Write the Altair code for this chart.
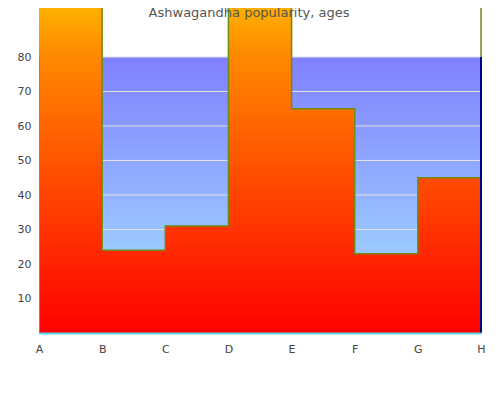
import altair as alt
import pandas as pd

categories = ["A", "B", "C", "D", "E", "F", "G", "H"]
values = [100, 24, 31, 100, 65, 23, 45, 100]
grid_values = [10, 20, 30, 40, 50, 60, 70, 80]

df = pd.DataFrame({"cat": categories, "val": values})
grid_df = pd.DataFrame({"g": grid_values})
bg_df = pd.DataFrame({"cat": ["A"], "x2": ["H"], "lo": [0], "hi": [80]})

W, H = 442, 276

xscale = alt.Scale(type="point", padding=0, domain=categories)
yscale = alt.Scale(domain=[0, 80], nice=False, zero=True)

xaxis = alt.Axis(title=None, labelAngle=0, ticks=False, domainColor="#5FD8F0",
                 domainWidth=2, labelColor="#444444", labelFontSize=11,
                 labelPadding=10, grid=False, zindex=1, labelOverlap=False)
yaxis = alt.Axis(title=None, values=grid_values, ticks=False, grid=False,
                 domainColor="#888888", labelColor="#444444", labelFontSize=11,
                 labelPadding=8, zindex=1, labelOverlap=False)

bg = alt.Chart(bg_df).mark_rect(
    color=alt.Gradient(
        gradient="linear", x1=0, y1=0, x2=0, y2=1,
        stops=[alt.GradientStop(offset=0, color="#8080FF"),
               alt.GradientStop(offset=1, color="#A6E8FF")],
    ),
    opacity=1,
).encode(
    x=alt.X("cat:N", scale=xscale, axis=xaxis),
    x2="x2:N",
    y=alt.Y("lo:Q", scale=yscale, axis=yaxis),
    y2="hi:Q",
)

grid = alt.Chart(grid_df).mark_rule(color="#E0E0E0", strokeWidth=1).encode(
    y=alt.Y("g:Q", scale=yscale, axis=yaxis),
    x=alt.value(0),
    x2=alt.value(W),
)

area = alt.Chart(df).mark_area(
    interpolate="step-after",
    clip=False,
    opacity=1,
    fillOpacity=1,
    line={"color": "#6E8A10", "strokeWidth": 1.5},
    color=alt.Gradient(
        gradient="linear", x1=0, y1=0, x2=0, y2=1,
        stops=[alt.GradientStop(offset=0, color="#FFBF00"),
               alt.GradientStop(offset=0.2, color="#FF8800"),
               alt.GradientStop(offset=1, color="#FF0000")],
    ),
).encode(
    x=alt.X("cat:N", scale=xscale, axis=xaxis),
    y=alt.Y("val:Q", scale=yscale, axis=yaxis),
)

right = alt.Chart(bg_df).mark_rule(color="#000080", strokeWidth=2).encode(
    x=alt.X("x2:N", scale=xscale, axis=xaxis),
    y=alt.Y("lo:Q", scale=yscale, axis=yaxis),
    y2="hi:Q",
)

chart = alt.layer(bg, grid, area, right).properties(
    width=W,
    height=H,
    title=alt.TitleParams("Ashwagandha popularity, ages", fontSize=13, fontWeight="normal",
                          color="#555555", offset=-35, dx=-11, font="DejaVu Sans"),
    autosize=alt.AutoSizeParams(type="none"),
    padding={"left": 31, "top": 49, "right": 11, "bottom": 59},
).configure_view(stroke=None).configure_axis(labelFont="DejaVu Sans")

chart.save("out.html", embed_options={"renderer": "svg", "actions": False})
